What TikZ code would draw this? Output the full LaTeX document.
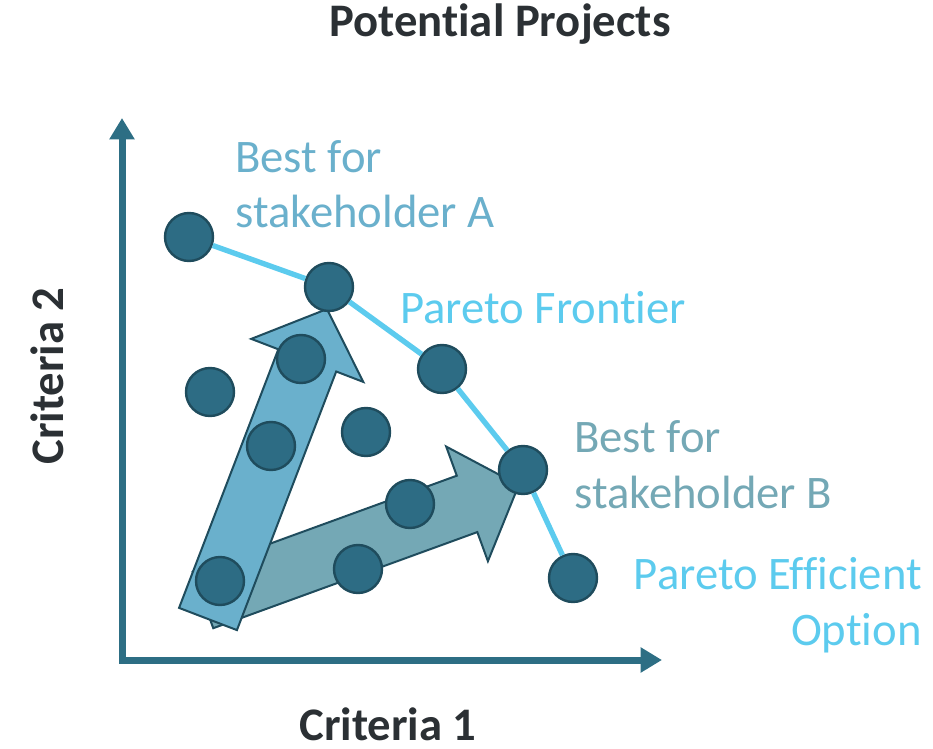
\documentclass[tikz,border=0pt]{standalone}
\usepackage{fontspec}
\setmainfont[Ligatures={NoCommon,NoRare,NoContextual}]{Carlito}
\usepackage{tikz}
\usetikzlibrary{arrows.meta}

\definecolor{dotfill}{HTML}{2D6C84}
\definecolor{dotline}{HTML}{1F4C5D}
\definecolor{axiscol}{HTML}{2D6E84}
\definecolor{frontcol}{HTML}{5CCBEE}
\definecolor{stakeA}{HTML}{6AB0CC}
\definecolor{stakeB}{HTML}{74A8B5}
\definecolor{headcol}{HTML}{2B3034}

\begin{document}
\begin{tikzpicture}[x=0.75pt, y=-0.75pt]
		\tikzstyle{project}=[circle, draw=dotline, fill=dotfill, line width=1.8pt, minimum size=36pt, inner sep=0pt]
		\tikzstyle{bigarrow}=[draw=dotline, line width=1.5pt, line join=miter]
		\tikzstyle{tag}=[inner sep=0pt, font=\fontsize{35}{42}\selectfont]
		\tikzstyle{heading}=[inner sep=0pt, text=headcol, font=\fontsize{35}{42}\selectfont\bfseries]

		\useasboundingbox (0,0) rectangle (933,749);

		% axes
		\coordinate (ytop) at (122,118);
		\coordinate (xend) at (662,660);
		\draw[axiscol, line width=5.25pt, {Triangle[width=18pt,length=16pt]}-{Triangle[width=18pt,length=16pt]}] (ytop) |- (xend);

		% the two stakeholder directions (tail at origin, pointing along x)
		\draw[bigarrow, fill=stakeB, shift={(203,600)}, rotate=20]
			(0,-30) -- (281,-30) -- (281,-61) -- (336,0) -- (281,61) -- (281,30) -- (0,30) -- cycle;
		\draw[bigarrow, fill=stakeA, shift={(208,619)}, rotate=69]
			(0,-31) -- (277,-31) -- (277,-60) -- (332,0) -- (277,60) -- (277,31) -- (0,31) -- cycle;

		% projects
		\node[project] (bestA) at (189,237) {};
		\node[project] (front2) at (329,287) {};
		\node[project] (front3) at (442,369) {};
		\node[project] (bestB) at (523,470) {};
		\node[project] (efficient) at (573,578) {};
		\node[project] (inner1) at (210,392) {};
		\node[project] (inner2) at (301,359) {};
		\node[project] (inner3) at (271,446) {};
		\node[project] (inner4) at (366,432) {};
		\node[project] (inner5) at (410,504) {};
		\node[project] (inner6) at (358,569) {};
		\node[project] (inner7) at (220,581) {};

		\draw[frontcol, line width=4pt] (bestA) -- (front2) -- (front3) -- (bestB) -- (efficient);

		% labels
		\node[tag, text=stakeA, anchor=base west, align=left] (labA) at (235,228) {Best for\\stakeholder A};
		\node[tag, text=frontcol, anchor=base west] (labFront) at (400,323) {Pareto Frontier};
		\node[tag, text=stakeB, anchor=base west, align=left] (labB) at (574,508) {Best for\\stakeholder B};
		\node[tag, text=frontcol, anchor=base east, align=right] (labEff) at (922,645) {Pareto Efficient\\Option};

		\node[heading, anchor=base] (title) at (500,37) {Potential Projects};
		\node[heading, anchor=base] (xlabel) at (388,740) {Criteria 1};
		\node[heading, anchor=base, rotate=90] (ylabel) at (63,376) {Criteria 2};

	\end{tikzpicture}
\end{document}
